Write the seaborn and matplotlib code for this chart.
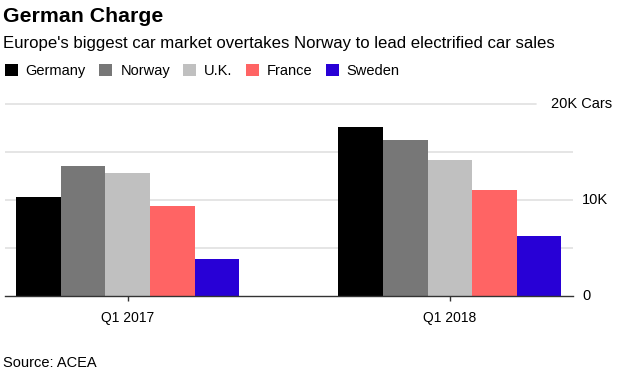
import seaborn as sns
from matplotlib import pyplot as plt
from matplotlib import transforms
import pandas as pd

quarters = ['Q1 2017', 'Q1 2018']
countries = ['Germany', 'Norway', 'U.K.', 'France', 'Sweden']
q1_2017 = [10300, 13500, 12800, 9400, 3800]
q1_2018 = [17600, 16200, 14100, 11000, 6200]
colors = ['#000000', '#777777', '#c0c0c0', '#ff6464', '#2800d6']
ytick_vals = [0, 10000, 20000]
ytick_labels = ['0', '10K', '20K Cars']

rows = []
for q, vals in zip(quarters, [q1_2017, q1_2018]):
    for c, v in zip(countries, vals):
        rows.append({'quarter': q, 'country': c, 'cars': v})
df = pd.DataFrame(rows)

sns.set_theme(style='white')
plt.rcParams['font.family'] = ['Liberation Sans', 'DejaVu Sans']
plt.rcParams['text.color'] = 'black'

fig = plt.figure(figsize=(6.17, 3.74), dpi=100)
ax = fig.add_axes([5 / 617, 78 / 374, 568 / 617, 197.3 / 374])

# gridlines (top one shortened to leave room for the unit label)
for lvl in [5000, 10000, 15000]:
    ax.axhline(lvl, color='#e0e0e0', lw=1.2, zorder=0)
ax.axhline(20000, xmax=531 / 568, color='#e0e0e0', lw=1.2, zorder=0)

sns.barplot(data=df, x='quarter', y='cars', hue='country', palette=colors,
            width=0.692, linewidth=0, saturation=1, ax=ax, zorder=2)

ax.set_xlim(-0.381, 1.382)
ax.set_ylim(0, 20500)
ax.set_xlabel('')
ax.set_ylabel('')

for s in ['top', 'left', 'right']:
    ax.spines[s].set_visible(False)
ax.spines['bottom'].set_color('#333333')
ax.spines['bottom'].set_linewidth(1.0)
ax.spines['bottom'].set_zorder(3)

# right-hand value labels
ax.set_yticks([])
trans = transforms.blended_transform_factory(ax.transAxes, ax.transData)
for v, lab in zip(ytick_vals, ytick_labels):
    if lab.endswith('Cars'):
        ax.text((612 - 5) / 568, v, lab, transform=trans, ha='right', va='center',
                fontsize=10.5, color='black', clip_on=False)
    else:
        ax.text((582 - 5) / 568, v, lab, transform=trans, ha='left', va='center',
                fontsize=10.5, color='black', clip_on=False)

ax.tick_params(axis='x', bottom=True, length=3.5, width=1, color='#333333',
               pad=7, labelsize=10, labelcolor='black')

sns.move_legend(ax, 'upper left', bbox_to_anchor=(-0.002, 0.844), bbox_transform=fig.transFigure,
                ncol=5, frameon=False, title=None, fontsize=10.5,
                handlelength=0.9, handleheight=0.9, handletextpad=0.55,
                columnspacing=0.9, borderaxespad=0)
for t in ax.get_legend().get_texts():
    t.set_color('black')

fig.text(0.005, 0.957, 'German Charge', fontsize=15.3, fontweight='bold', va='center', color='black')
fig.text(0.005, 0.885, "Europe's biggest car market overtakes Norway to lead electrified car sales",
         fontsize=12.1, va='center', color='black')
fig.text(0.005, 0.029, 'Source: ACEA', fontsize=10.5, va='center', color='black')

plt.savefig('out.png', dpi=100)
